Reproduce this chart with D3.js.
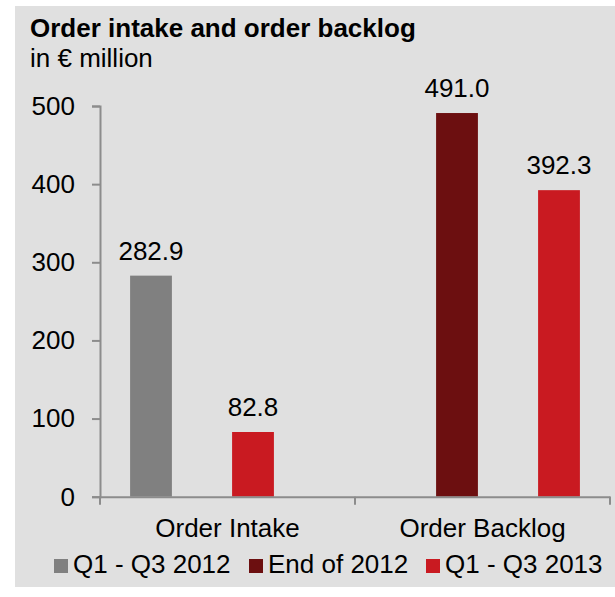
<!DOCTYPE html>
<html>
<head>
<meta charset="utf-8">
<script src="https://cdnjs.cloudflare.com/ajax/libs/d3/7.8.5/d3.min.js"></script>
<style>
  body { margin: 0; background: #fff; }
  text { font-family: "Liberation Sans", Arial, sans-serif; fill: #000; }
</style>
</head>
<body>
<script>
// data
const categories = ["Order Intake", "Order Backlog"];
const seriesNames = ["Q1 - Q3 2012", "End of 2012", "Q1 - Q3 2013"];
const seriesColors = ["#808080", "#6c0f10", "#c91a21"];
// one row per category, null = no bar
const intakeValues = [282.9, null, 82.8];
const backlogValues = [null, 491.0, 392.3];
const yTicks = [0, 100, 200, 300, 400, 500];

const w = 615, h = 597;
const plotLeft = 100, plotRight = 610, plotBottom = 496.7, plotTop = 106;

const svg = d3.select("body").append("svg")
  .attr("width", w)
  .attr("height", h);

svg.append("rect")
  .attr("x", 15).attr("y", 6)
  .attr("width", w - 15).attr("height", 581)
  .attr("fill", "#e0e0e0");

// title
svg.append("text")
  .attr("x", 30).attr("y", 37)
  .style("font-size", "26px").style("font-weight", "bold")
  .text("Order intake and order backlog");
svg.append("text")
  .attr("x", 30).attr("y", 67)
  .style("font-size", "26px")
  .text("in € million");

const y = d3.scaleLinear().domain([0, 500]).range([plotBottom, plotTop]);
const xCat = d3.scaleBand().domain(categories).range([plotLeft, plotRight]);

// bars sit in 5 slots, the middle one empty (Excel layout)
const slot = d3.scaleBand().domain(d3.range(5)).range([plotLeft, plotRight])
  .paddingInner(0.59).paddingOuter(0.295);

const bars = [];
[intakeValues, backlogValues].forEach((vals, ci) => {
  let k = 0;
  vals.forEach((v, si) => {
    if (v === null) return;
    bars.push({ cat: categories[ci], series: si, value: v, slot: ci * 3 + k });
    k++;
  });
});

svg.selectAll(".bar")
  .data(bars)
  .enter()
  .append("rect")
  .attr("class", "bar")
  .attr("x", d => slot(d.slot))
  .attr("y", d => y(d.value))
  .attr("width", slot.bandwidth())
  .attr("height", d => y(0) - y(d.value))
  .attr("fill", d => seriesColors[d.series]);

svg.selectAll(".val")
  .data(bars)
  .enter()
  .append("text")
  .attr("class", "val")
  .attr("x", d => slot(d.slot) + slot.bandwidth() / 2)
  .attr("y", d => y(d.value) - 16)
  .attr("text-anchor", "middle")
  .style("font-size", "26px")
  .text(d => d.value.toFixed(1));

// y axis
const yAxis = svg.append("g")
  .attr("transform", "translate(" + plotLeft + ",0)")
  .call(d3.axisLeft(y).tickValues(yTicks).tickSize(8).tickPadding(17));
yAxis.select(".domain").attr("stroke", "#8c8c8c").attr("stroke-width", 2);
yAxis.selectAll("line").attr("stroke", "#8c8c8c").attr("stroke-width", 2);
yAxis.selectAll("text").style("font-size", "26px").attr("font-family", null).attr("fill", "#000");

// x axis
const xAxis = svg.append("g")
  .attr("transform", "translate(0," + plotBottom + ")")
  .call(d3.axisBottom(xCat).tickSize(0).tickPadding(22));
xAxis.select(".domain").attr("stroke", "#8c8c8c").attr("stroke-width", 2);
xAxis.selectAll("text").style("font-size", "26px").attr("font-family", null).attr("fill", "#000");
const bounds = categories.map(c => xCat(c)).concat([plotRight]);
xAxis.selectAll(".bound")
  .data(bounds)
  .enter()
  .append("line")
  .attr("class", "bound")
  .attr("x1", d => d).attr("x2", d => d)
  .attr("y1", 0).attr("y2", 8)
  .attr("stroke", "#8c8c8c").attr("stroke-width", 2);

// legend
const legendX = [54, 249, 426];
const legend = svg.selectAll(".leg")
  .data(seriesNames)
  .enter()
  .append("g")
  .attr("class", "leg")
  .attr("transform", (d, i) => "translate(" + legendX[i] + ",573)");
legend.append("rect")
  .attr("x", 0).attr("y", -14)
  .attr("width", 14).attr("height", 14)
  .attr("fill", (d, i) => seriesColors[i]);
legend.append("text")
  .attr("x", 19).attr("y", 0)
  .style("font-size", "26px")
  .text(d => d);
</script>
</body>
</html>
